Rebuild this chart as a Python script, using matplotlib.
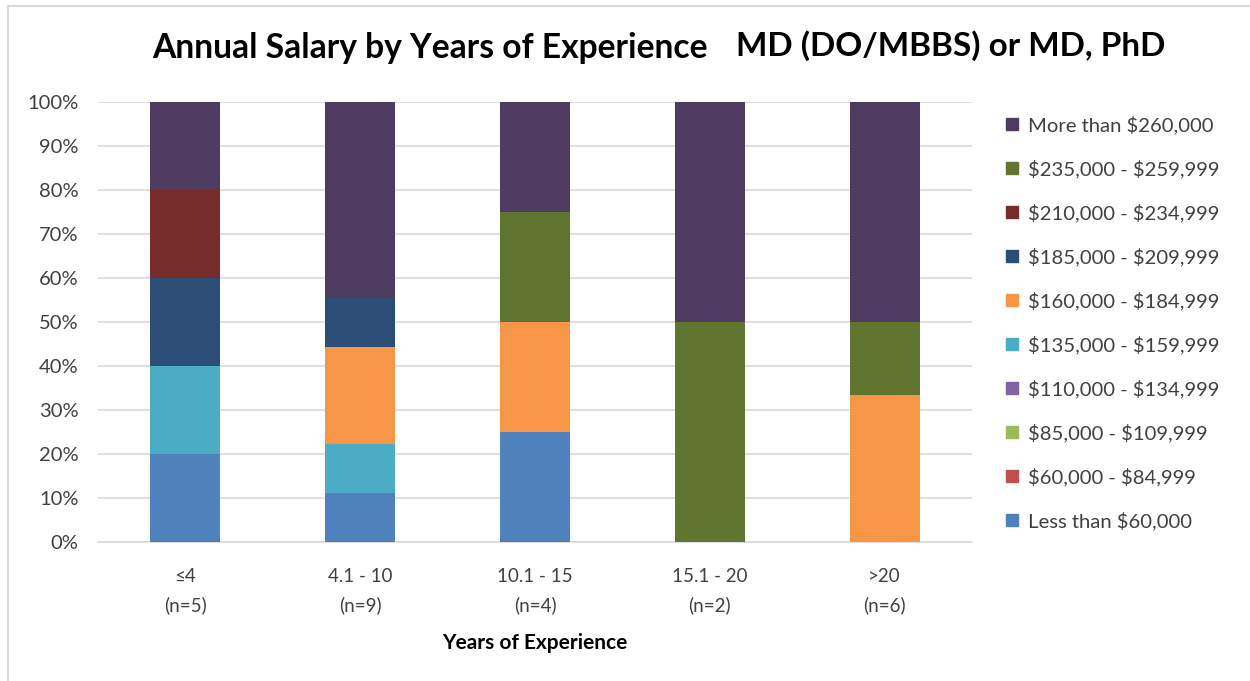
import matplotlib
matplotlib.use("Agg")
import matplotlib.pyplot as plt
from matplotlib.lines import Line2D
import numpy as np

plt.rcParams['font.family'] = ['Lato', 'DejaVu Sans']
plt.rcParams['text.parse_math'] = False

categories = ["≤4\n(n=5)", "4.1 - 10\n(n=9)", "10.1 - 15\n(n=4)", "15.1 - 20\n(n=2)", ">20\n(n=6)"]

series_names = [
    "Less than $60,000",
    "$60,000 - $84,999",
    "$85,000 - $109,999",
    "$110,000 - $134,999",
    "$135,000 - $159,999",
    "$160,000 - $184,999",
    "$185,000 - $209,999",
    "$210,000 - $234,999",
    "$235,000 - $259,999",
    "More than $260,000",
]

# percentages per category (≤4, 4.1-10, 10.1-15, 15.1-20, >20)
less_60k   = [20.0, 11.1, 25.0, 0.0, 0.0]
s60_85k    = [0.0, 0.0, 0.0, 0.0, 0.0]
s85_110k   = [0.0, 0.0, 0.0, 0.0, 0.0]
s110_135k  = [0.0, 0.0, 0.0, 0.0, 0.0]
s135_160k  = [20.0, 11.1, 0.0, 0.0, 0.0]
s160_185k  = [0.0, 22.2, 25.0, 0.0, 33.3]
s185_210k  = [20.0, 11.1, 0.0, 0.0, 0.0]
s210_235k  = [20.0, 0.0, 0.0, 0.0, 0.0]
s235_260k  = [0.0, 0.0, 25.0, 50.0, 16.7]
more_260k  = [20.0, 44.4, 25.0, 50.0, 50.0]

series_values = [less_60k, s60_85k, s85_110k, s110_135k, s135_160k,
                 s160_185k, s185_210k, s210_235k, s235_260k, more_260k]

colors = ["#4F81BD", "#C0504D", "#9BBB59", "#8064A2", "#4BACC6",
          "#F79646", "#2C4D75", "#772C2A", "#5F7530", "#4D3B62"]

fig = plt.figure(figsize=(12.5, 6.81), dpi=100)
ax = fig.add_axes([0.0784, 0.2041, 0.6992, 0.6461])

x = np.arange(len(categories))
bottom = np.zeros(len(categories))
handles = []
for name, vals, col in zip(series_names, series_values, colors):
    vals = np.array(vals, dtype=float)
    ax.bar(x, vals, width=0.40, bottom=bottom, color=col, zorder=3)
    bottom += vals
    handles.append(Line2D([0], [0], marker='s', linestyle='none', markersize=8.5,
                          markerfacecolor=col, markeredgecolor=col, label=name))

ax.set_xlim(-0.5, len(categories) - 0.5)
ax.set_ylim(0, 100)
ax.set_yticks(np.arange(0, 101, 10))
ax.set_yticklabels([f"{v}%" for v in range(0, 101, 10)], fontsize=14.5, color="#404040")
ax.set_xticks(x)
ax.set_xticklabels(categories, fontsize=13.5, color="#404040", linespacing=1.7)
ax.tick_params(axis='both', length=0)
ax.tick_params(axis='x', pad=19)
ax.tick_params(axis='y', pad=14)
ax.grid(axis='y', color="#D9D9D9", linewidth=1.2, zorder=0)
for s in ['top', 'right', 'left']:
    ax.spines[s].set_visible(False)
ax.spines['bottom'].set_color("#D9D9D9")
ax.spines['bottom'].set_linewidth(1.2)

ax.set_xlabel("Years of Experience", fontsize=15, fontweight='bold', labelpad=14)

fig.text(0.122, 0.929, "Annual Salary by Years of Experience", fontsize=24.2,
         fontweight='bold', ha='left', va='center')
fig.text(0.589, 0.933, "MD (DO/MBBS) or MD, PhD", fontsize=24,
         fontweight='bold', ha='left', va='center')

leg = fig.legend(handles=handles[::-1], loc='upper left', bbox_to_anchor=(0.787, 0.857),
                 frameon=False, fontsize=14.6, labelspacing=1.25, handletextpad=0.3,
                 handlelength=1.0)
for t in leg.get_texts():
    t.set_color("#404040")

# chart-area border (top and left visible)
fig.add_artist(Line2D([0.0064, 1.0], [0.991, 0.991], transform=fig.transFigure,
                      color="#D9D9D9", linewidth=1.5))
fig.add_artist(Line2D([0.0064, 0.0064], [0.0, 0.991], transform=fig.transFigure,
                      color="#D9D9D9", linewidth=1.5))

fig.savefig("out.png", dpi=100)
